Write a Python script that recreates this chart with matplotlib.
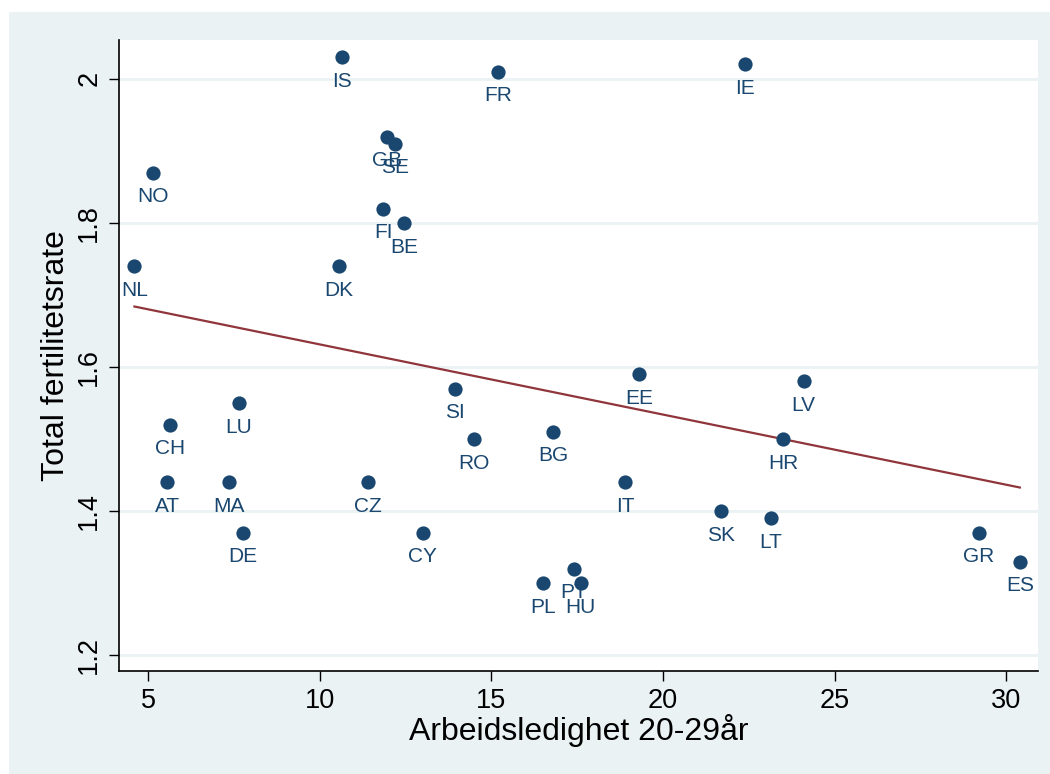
import matplotlib
matplotlib.use('Agg')
import matplotlib.pyplot as plt
import numpy as np
from matplotlib.patches import Rectangle

plt.rcParams['font.family'] = ['Liberation Sans', 'DejaVu Sans']

# country codes, unemployment 20-29 (%), total fertility rate
countries = ['IS', 'FR', 'IE', 'GB', 'SE', 'NO', 'FI', 'BE', 'NL', 'DK',
             'SI', 'EE', 'LV', 'CH', 'LU', 'RO', 'BG', 'HR', 'AT', 'MA',
             'CZ', 'IT', 'SK', 'LT', 'DE', 'CY', 'GR', 'ES', 'PL', 'PT', 'HU']
unemployment = [10.65, 15.2, 22.4, 11.95, 12.2, 5.15, 11.85, 12.45, 4.6, 10.55,
                13.95, 19.3, 24.1, 5.65, 7.65, 14.5, 16.8, 23.5, 5.55, 7.35,
                11.4, 18.9, 21.7, 23.15, 7.75, 13.0, 29.2, 30.4, 16.5, 17.4, 17.6]
fertility = [2.03, 2.01, 2.02, 1.92, 1.91, 1.87, 1.82, 1.80, 1.74, 1.74,
             1.57, 1.59, 1.58, 1.52, 1.55, 1.50, 1.51, 1.50, 1.44, 1.44,
             1.44, 1.44, 1.40, 1.39, 1.37, 1.37, 1.37, 1.33, 1.30, 1.32, 1.30]

x_ticks = [5, 10, 15, 20, 25, 30]
y_ticks = [1.2, 1.4, 1.6, 1.8, 2.0]
y_ticklabels = ['1.2', '1.4', '1.6', '1.8', '2']

navy = '#1A476F'
maroon = '#90353B'
bg = '#EAF2F3'


def main():
    fig = plt.figure(figsize=(10.5, 7.74), dpi=100, facecolor='white')
    fig.patches.append(Rectangle((9 / 1050, 0), 1 - 9 / 1050, 1 - 12 / 774,
                                 transform=fig.transFigure, facecolor=bg,
                                 edgecolor='none', zorder=-10))
    ax = fig.add_axes([119 / 1050, 103 / 774, (1038 - 119) / 1050, (671 - 40) / 774])
    ax.set_facecolor('white')

    x = np.array(unemployment)
    y = np.array(fertility)
    ax.scatter(x, y, s=105, color=navy, zorder=3, linewidths=0)
    for c, xi, yi in zip(countries, x, y):
        ax.annotate(c, (xi, yi), xytext=(0, -10.5), textcoords='offset points',
                    ha='center', va='top', fontsize=15, color=navy, zorder=4)

    slope, icpt = np.polyfit(x, y, 1)
    xs = np.array([x.min(), x.max()])
    ax.plot(xs, icpt + slope * xs, color=maroon, lw=1.6, zorder=2)

    ax.set_xlim(4.15, 30.93)
    ax.set_ylim(1.178, 2.054)
    ax.set_xticks(x_ticks)
    ax.set_yticks(y_ticks)
    ax.set_yticklabels(y_ticklabels, rotation=90, va='center')
    ax.tick_params(labelsize=19.5, length=7, width=1, colors='black', pad=5)
    ax.grid(axis='y', color=bg, lw=2)
    ax.set_axisbelow(True)
    for s in ['top', 'right']:
        ax.spines[s].set_visible(False)
    for s in ['left', 'bottom']:
        ax.spines[s].set_linewidth(1.2)

    ax.set_xlabel('Arbeidsledighet 20-29år', fontsize=23, labelpad=0)
    ax.set_ylabel('Total fertilitetsrate', fontsize=23, labelpad=4)

    fig.savefig('out.png', dpi=100, facecolor=fig.get_facecolor())


if __name__ == '__main__':
    main()
